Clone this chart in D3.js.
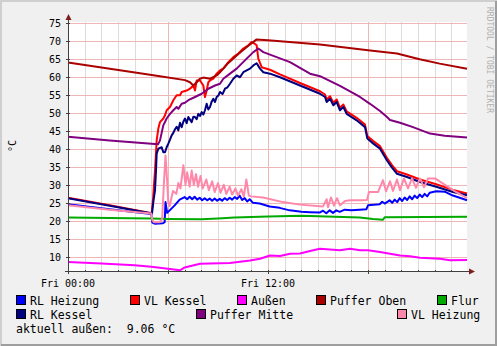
<!DOCTYPE html>
<html>
<head>
<meta charset="utf-8">
<script src="https://cdn.jsdelivr.net/npm/d3@7"></script>
<style>
  body { margin: 0; background: #f0f0f0; }
  svg { display: block; }
  text { font-family: "DejaVu Sans Mono", monospace; }
</style>
</head>
<body>
<div class="chart"></div>
<script>
// GLOBAL CONSTANTS
const FRAME_WIDTH = 497;
const FRAME_HEIGHT = 346;
const PLOT = {left: 68, right: 468, top: 22, bottom: 271};

// DATA  [hour since Fri 00:00, °C]
const rlHeizung = [[0,24.6],[2.5,23.2],[5.0,21.9],[5.06,19.5],[5.2,19.2],[5.7,19.3],[5.8,19.6],[5.85,25.2],[5.95,22.2],[6.1,22.9],[6.4,24.3],[6.7,25.9],[7.0,26.6],[7.15,26.0],[7.3,26.7],[7.45,26.0],[7.6,26.7],[7.75,25.9],[7.9,26.4],[8.05,25.7],[8.2,26.3],[8.35,25.7],[8.5,26.2],[8.65,25.6],[8.8,26.2],[8.95,25.6],[9.1,26.1],[9.25,25.6],[9.4,26.3],[9.55,25.8],[9.7,26.4],[9.85,25.9],[10.0,26.6],[10.15,26.1],[10.3,27.0],[10.45,25.8],[10.6,26.3],[10.75,25.4],[10.9,26.0],[11.1,25.0],[11.5,24.8],[12.1,24.0],[12.7,23.6],[13.3,22.9],[14.0,22.5],[14.5,22.4],[15.1,22.3],[15.3,22.8],[15.5,22.1],[15.7,22.9],[15.9,22.2],[16.1,22.9],[16.3,22.5],[16.6,23.1],[17.0,22.9],[17.5,23.1],[17.9,23.2],[18.0,24.3],[18.7,24.6],[18.85,25.3],[19.0,24.8],[19.3,25.7],[19.45,25.0],[19.6,25.9],[19.75,25.2],[19.9,26.3],[20.05,25.5],[20.2,26.5],[20.35,25.8],[20.5,26.8],[20.65,26.0],[20.8,27.0],[20.95,26.3],[21.1,27.3],[21.25,26.6],[21.4,27.5],[21.55,26.8],[21.7,27.8],[22.1,28.2],[22.6,28.1],[23.0,27.2],[23.5,26.4],[23.94,25.7]];

const vlKessel = [[0,26.4],[2.5,24.3],[5.02,22.1],[5.1,26],[5.22,34],[5.32,42.4],[5.42,45.7],[5.52,47.5],[5.72,48.5],[5.82,49.4],[5.92,50.8],[6.12,51.7],[6.32,53.6],[6.52,55],[6.72,55],[6.82,55.9],[7.12,56.3],[7.32,56.8],[7.52,57.7],[7.62,56.3],[7.72,59.1],[7.92,59.1],[8.12,57.7],[8.22,54.5],[8.32,56.3],[8.42,58.6],[8.52,59.1],[8.72,59.6],[8.92,61],[9.12,61.9],[9.32,62.4],[9.62,64.2],[9.92,65.6],[10.22,66.6],[10.52,68],[10.82,68.9],[11.02,69.8],[11.22,69.3],[11.32,68.9],[11.42,65.2],[11.62,62.8],[12.12,62.1],[12.72,60.8],[13.92,58.4],[15.12,56.1],[15.42,55.2],[15.52,53.8],[15.72,54.7],[15.92,52.9],[16.12,53.8],[16.32,51.5],[16.52,52.4],[16.72,50.5],[17.32,48.7],[17.82,46.8],[17.96,43.6],[18.32,42.2],[18.72,40.8],[19.14,37.5],[19.44,35.5],[19.74,33.8],[20.34,32.9],[21.12,31.5],[22.14,30.1],[23.1,28.6],[23.94,27.6]];

const aussen = [[0,8.5],[2,8.1],[4,7.6],[5,7.2],[6,6.6],[6.72,6.2],[7.0,7.0],[7.92,8.0],[9.72,8.2],[10.92,8.9],[11.52,9.4],[12.12,10.3],[12.72,10.2],[13.32,10.8],[13.92,10.9],[14.52,11.6],[15.12,12.2],[15.72,12.0],[16.32,11.8],[16.92,12.2],[17.52,11.8],[18.0,11.8],[18.72,11.3],[19.32,10.8],[19.92,10.3],[20.52,10.1],[21.12,9.7],[22.32,9.4],[22.92,9.0],[23.94,9.06]];

const pufferOben = [[0,64.1],[4.32,61.1],[5.52,60.3],[7.02,59.2],[7.32,58.6],[7.52,57.7],[7.72,58.6],[7.92,59.6],[8.12,59.9],[8.52,59.6],[8.92,60.5],[9.12,61.4],[9.62,64.0],[10.22,66.5],[10.82,68.8],[11.3,70.5],[12.0,70.3],[15.12,69.1],[18.0,67.5],[19.74,66.6],[21.1,65.0],[22.3,63.8],[23.94,62.4]];

const flur = [[0,20.9],[5,20.6],[6,20.5],[8,20.4],[9,20.6],[10,20.9],[12,21.2],[14,21.4],[16,21.1],[17.5,20.9],[18.3,20.5],[18.9,20.3],[19.0,21.0],[23.94,21.1]];

const rlKessel = [[0,26.3],[2.5,24.2],[5.04,22.0],[5.12,25.2],[5.22,28.5],[5.28,34],[5.32,38.7],[5.42,40.1],[5.62,40.5],[5.72,39.1],[5.82,39.1],[5.92,40.5],[6.02,41.5],[6.12,42.6],[6.22,43.8],[6.32,44.5],[6.42,45.5],[6.52,46.2],[6.62,45.2],[6.72,47.3],[6.82,46.1],[6.92,47.6],[7.02,48.5],[7.12,47.2],[7.22,48.9],[7.32,48.2],[7.42,47.5],[7.52,49.0],[7.62,48.9],[7.72,48.3],[7.82,49.8],[7.92,49.2],[8.02,50.3],[8.12,49.6],[8.22,50.8],[8.32,52.6],[8.42,51.0],[8.52,51.7],[8.62,53.2],[8.72,54.0],[8.82,53.1],[8.92,54.5],[9.02,54.9],[9.12,55.9],[9.27,55.3],[9.42,56.8],[9.57,57.2],[9.72,58.2],[9.92,59.6],[10.12,60.5],[10.32,60.0],[10.52,61.4],[10.72,61.9],[10.92,62.4],[11.12,63.3],[11.32,63.9],[11.52,62.4],[11.72,61.4],[12.12,61.0],[12.72,60.0],[13.92,57.7],[15.12,55.4],[15.42,54.5],[15.52,53.1],[15.72,54.0],[15.92,52.2],[16.12,53.1],[16.32,50.8],[16.52,51.7],[16.72,49.8],[17.32,48.0],[17.82,46.1],[17.96,42.9],[18.32,41.5],[18.72,40.1],[19.14,36.8],[19.44,34.8],[19.74,33.1],[20.34,32.2],[21.12,30.8],[22.14,29.4],[23.1,28.0],[23.94,27.1]];

const pufferMitte = [[0,43.4],[2.5,42.4],[5.4,41.3],[5.52,42.4],[5.72,46.6],[5.92,48.5],[6.12,49.8],[6.32,50.8],[6.52,51.7],[6.62,51.2],[6.82,52.6],[7.02,52.9],[7.22,53.6],[7.62,54.5],[8.02,55.4],[8.42,56.8],[8.82,57.7],[9.12,58.2],[9.32,59.6],[9.72,61.0],[10.12,62.4],[10.72,65.2],[11.12,67.0],[11.42,68.0],[11.72,67.0],[12.52,65.6],[13.32,64.2],[14.52,61.0],[15.12,60.3],[16.32,57.6],[17.52,54.5],[18.12,52.6],[18.72,50.6],[19.14,48.9],[19.32,48.1],[19.92,47.3],[20.7,46.1],[21.72,44.3],[22.6,43.7],[23.94,43.2]];

const vlHeizung = [[0,24.3],[2.5,23.1],[5.0,22.0],[5.06,20.2],[5.15,19.6],[5.5,19.6],[5.65,20.5],[5.75,30],[5.85,38.2],[5.95,31],[6.02,25],[6.1,24.1],[6.3,28.3],[6.5,27.5],[6.62,30.5],[6.75,29],[6.92,35.5],[7.05,30],[7.15,33.5],[7.3,29.5],[7.42,34],[7.55,30],[7.68,33],[7.8,29.5],[7.95,32.5],[8.08,29],[8.3,31.5],[8.45,28.5],[8.65,31],[8.8,28],[9.0,30.5],[9.15,27.8],[9.35,30],[9.5,27.5],[9.7,29.5],[9.85,27.3],[10.05,29],[10.2,27],[10.4,28.8],[10.55,26.8],[10.7,31.5],[10.85,27],[11.0,26.8],[11.7,26.5],[12.9,25.2],[13.92,24.5],[15.3,24.0],[15.52,26],[15.6,23.8],[15.78,26.5],[15.96,24.2],[16.14,26.3],[16.32,24.3],[16.62,25.5],[16.92,25.7],[17.52,25.7],[17.94,25.8],[18.06,28],[18.6,28],[18.9,31.3],[19.08,28.2],[19.32,31],[19.5,28.3],[19.74,31.5],[19.92,28.5],[20.16,31.8],[20.4,29],[20.64,31.8],[20.88,29.2],[21.12,31.8],[21.36,29.3],[21.6,31.8],[22.02,31.8],[22.62,30],[23.22,28.2],[23.94,26.3]];

const Y_TICKS = [10, 15, 20, 25, 30, 35, 40, 45, 50, 55, 60, 65, 70, 75];
const X_LABELS = [[0, "Fri 00:00"], [12, "Fri 12:00"]];

const SERIES = [
  {name: "RL Heizung", data: rlHeizung, color: "#0000ff", lx: 16, row: 0},
  {name: "VL Kessel", data: vlKessel, color: "#ff0000", lx: 130, row: 0},
  {name: "Außen", data: aussen, color: "#ff00ff", lx: 237, row: 0},
  {name: "Puffer Oben", data: pufferOben, color: "#aa0000", lx: 316, row: 0},
  {name: "Flur", data: flur, color: "#00aa00", lx: 437, row: 0},
  {name: "RL Kessel", data: rlKessel, color: "#000080", lx: 16, row: 1},
  {name: "Puffer Mitte", data: pufferMitte, color: "#800080", lx: 196, row: 1},
  {name: "VL Heizung", data: vlHeizung, color: "#ff88aa", lx: 397, row: 1}
];

const FRAME = d3.select(".chart")
  .append("svg")
    .attr("width", FRAME_WIDTH)
    .attr("height", FRAME_HEIGHT);

// background + 3d border
FRAME.append("rect").attr("width", FRAME_WIDTH).attr("height", FRAME_HEIGHT).attr("fill", "#f0f0f0");
FRAME.append("path").attr("d", `M1,${FRAME_HEIGHT} V1 H${FRAME_WIDTH}`)
  .attr("fill", "none").attr("stroke", "#cfcfcf").attr("stroke-width", 2);
FRAME.append("path").attr("d", `M1,${FRAME_HEIGHT - 1} H${FRAME_WIDTH - 1} V1`)
  .attr("fill", "none").attr("stroke", "#9e9e9e").attr("stroke-width", 2);

const X_SCALE = d3.scaleLinear().domain([0, 24]).range([PLOT.left, PLOT.right]);
const Y_SCALE = d3.scaleLinear().domain([6, 75.4]).range([PLOT.bottom, PLOT.top]);

// canvas
FRAME.append("rect")
  .attr("x", PLOT.left).attr("y", PLOT.top)
  .attr("width", PLOT.right - PLOT.left - 1).attr("height", PLOT.bottom - PLOT.top)
  .attr("fill", "#ffffff");

// GRID
const hours = d3.range(1, 24);
FRAME.append("g").selectAll("line")
  .data(hours.filter(h => h % 6 !== 0))
  .enter().append("line")
    .attr("x1", d => Math.round(X_SCALE(d)) + 0.5).attr("x2", d => Math.round(X_SCALE(d)) + 0.5)
    .attr("y1", PLOT.top).attr("y2", PLOT.bottom)
    .attr("stroke", "#dcdcdc");

FRAME.append("g").selectAll("line")
  .data(Y_TICKS)
  .enter().append("line")
    .attr("x1", PLOT.left).attr("x2", PLOT.right - 1)
    .attr("y1", d => Math.round(Y_SCALE(d)) + 0.5).attr("y2", d => Math.round(Y_SCALE(d)) + 0.5)
    .attr("stroke", "#eeb6b6");

FRAME.append("g").selectAll("line")
  .data(hours.filter(h => h % 6 === 0))
  .enter().append("line")
    .attr("x1", d => Math.round(X_SCALE(d)) + 0.5).attr("x2", d => Math.round(X_SCALE(d)) + 0.5)
    .attr("y1", PLOT.top).attr("y2", PLOT.bottom)
    .attr("stroke", "#eeb6b6");

// Y LABELS
FRAME.append("g").selectAll("text")
  .data(Y_TICKS)
  .enter().append("text")
    .attr("x", 61).attr("y", d => Y_SCALE(d) + 0.5)
    .attr("text-anchor", "end").attr("dominant-baseline", "central")
    .attr("font-size", "10px").attr("fill", "#000")
    .text(d => d);

// X LABELS
FRAME.append("g").selectAll("text")
  .data(X_LABELS)
  .enter().append("text")
    .attr("x", d => X_SCALE(d[0])).attr("y", 283)
    .attr("text-anchor", "middle").attr("dominant-baseline", "central")
    .attr("font-size", "10px").attr("fill", "#000")
    .text(d => d[1]);

// axis title + watermark
FRAME.append("text")
  .attr("transform", "translate(12,146) rotate(-90)")
  .attr("text-anchor", "middle").attr("dominant-baseline", "central")
  .attr("font-size", "10px").text("°C");

FRAME.append("text")
  .attr("transform", "translate(489,7) rotate(90)")
  .attr("text-anchor", "start").attr("dominant-baseline", "central")
  .attr("font-size", "8px").attr("fill", "#b0b0b0")
  .text("RRDTOOL / TOBI OETIKER");

// LINES
const line = d3.line()
  .x(d => X_SCALE(d[0]))
  .y(d => Y_SCALE(d[1]));

FRAME.append("g").selectAll("path")
  .data(SERIES)
  .enter().append("path")
    .attr("d", d => line(d.data))
    .attr("fill", "none")
    .attr("stroke", d => d.color)
    .attr("stroke-width", 2)
    .attr("stroke-linejoin", "round");

// AXES
const AXIS = FRAME.append("g").attr("stroke", "#404040");
AXIS.append("line").attr("x1", PLOT.left + 0.5).attr("x2", PLOT.left + 0.5)
  .attr("y1", PLOT.bottom + 3).attr("y2", PLOT.top - 3);
AXIS.append("line").attr("x1", PLOT.left - 3).attr("x2", PLOT.right + 3)
  .attr("y1", PLOT.bottom + 0.5).attr("y2", PLOT.bottom + 0.5);
AXIS.selectAll(".yt").data(Y_TICKS).enter().append("line")
  .attr("x1", PLOT.left - 2).attr("x2", PLOT.left + 2)
  .attr("y1", d => Math.round(Y_SCALE(d)) + 0.5).attr("y2", d => Math.round(Y_SCALE(d)) + 0.5);
AXIS.selectAll(".xt").data(d3.range(0, 24)).enter().append("line")
  .attr("x1", d => Math.round(X_SCALE(d)) + 0.5).attr("x2", d => Math.round(X_SCALE(d)) + 0.5)
  .attr("y1", PLOT.bottom - 1)
  .attr("y2", d => PLOT.bottom + (d % 6 === 0 ? 3 : 1));

FRAME.append("path")
  .attr("d", `M${PLOT.left - 2.5},${PLOT.top - 2} L${PLOT.left + 0.5},${PLOT.top - 8} L${PLOT.left + 3.5},${PLOT.top - 2} Z`)
  .attr("fill", "#801e1e");
FRAME.append("path")
  .attr("d", `M${PLOT.right + 1},${PLOT.bottom - 2.5} L${PLOT.right + 7},${PLOT.bottom + 0.5} L${PLOT.right + 1},${PLOT.bottom + 3.5} Z`)
  .attr("fill", "#801e1e");

// LEGEND
const LEGEND_Y = [300, 314];
const LEG = FRAME.append("g");
LEG.selectAll("rect")
  .data(SERIES)
  .enter().append("rect")
    .attr("x", d => d.lx + 0.5).attr("y", d => LEGEND_Y[d.row] - 4.5)
    .attr("width", 9).attr("height", 9)
    .attr("fill", d => d.color).attr("stroke", "#000");
LEG.selectAll("text")
  .data(SERIES)
  .enter().append("text")
    .attr("x", d => d.lx + 14).attr("y", d => LEGEND_Y[d.row] + 0.5)
    .attr("dominant-baseline", "central")
    .attr("font-size", "11.5px")
    .text(d => d.name);

FRAME.append("text")
  .attr("x", 16).attr("y", 328.5)
  .attr("dominant-baseline", "central")
  .attr("font-size", "11.5px")
  .attr("xml:space", "preserve")
  .style("white-space", "pre")
  .text("aktuell außen:  9.06 °C");
</script>
</body>
</html>
